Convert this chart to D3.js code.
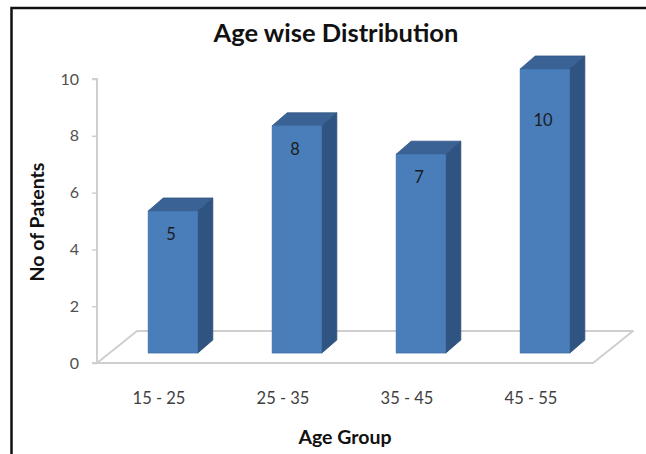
<!DOCTYPE html>
<html>
<head>
<meta charset="utf-8">
<script src="https://cdn.jsdelivr.net/npm/d3@7"></script>
<style>
  html, body { margin: 0; padding: 0; background: #fff; }
  svg { display: block; }
  text { font-family: Lato, "Open Sans", sans-serif; }
</style>
</head>
<body>
<svg id="chart" width="646" height="454"></svg>
<script>
// Patients per age group
const categories = ["15 - 25", "25 - 35", "35 - 45", "45 - 55"];
const patients = [5, 8, 7, 10];
const yTicks = [0, 2, 4, 6, 8, 10];

const title = "Age wise Distribution";
const xTitle = "Age Group";
const yTitle = "No of Patents";

const W = 646, H = 454;
const svg = d3.select("#chart");

// outer frame
svg.append("rect")
  .attr("x", 11.5).attr("y", 8)
  .attr("width", W + 20).attr("height", H + 20)
  .attr("fill", "#fff")
  .attr("stroke", "#111").attr("stroke-width", 2.5);

// front plane of the 3D floor
const floorLeft = 97, floorRight = 593;
const y = d3.scaleLinear().domain([0, 10]).range([363, 79]);
const x = d3.scaleBand().domain(categories)
  .range([floorLeft, floorRight]).paddingInner(0.6).paddingOuter(0.3);

// depth projection: floor depth, bar front / back planes
const depth = { dx: 40, dy: -32 };
const front = { dx: 14, dy: -10 };
const back = { dx: 29, dy: -23 };

const grid = "#cfcfcf";

// floor parallelogram
const floorPts = [
  [floorLeft, y(0)],
  [floorRight, y(0)],
  [floorRight + depth.dx, y(0) + depth.dy],
  [floorLeft + depth.dx, y(0) + depth.dy]
];
svg.append("polygon")
  .attr("points", floorPts.map(p => p.join(",")).join(" "))
  .attr("fill", "#fff")
  .attr("stroke", grid).attr("stroke-width", 2)
  .attr("stroke-linejoin", "round");

// value axis
const yAxis = d3.axisLeft(y).tickValues(yTicks).tickSize(5).tickPadding(13);
const gy = svg.append("g").attr("transform", `translate(${floorLeft},0)`).call(yAxis);
gy.select(".domain").attr("stroke", grid).attr("stroke-width", 2)
  .attr("d", `M-5,${y(10)}H0V${y(0)}H-5`);
gy.selectAll(".tick line").attr("stroke", grid).attr("stroke-width", 1.5);
gy.selectAll(".tick text")
  .attr("fill", "#505050").attr("font-size", 16)
  .style("font-family", "Lato, sans-serif");

// category labels (front plane)
svg.append("g").selectAll("text")
  .data(categories)
  .join("text")
  .attr("x", d => x(d) + x.bandwidth() / 2)
  .attr("y", 404)
  .attr("text-anchor", "middle")
  .attr("fill", "#404040").attr("font-size", 16.5)
  .text(d => d);

// 3D columns
const colFront = "#4a7ebb", colSide = "#2f5481", colTop = "#3a6294";
const bars = svg.append("g").selectAll("g")
  .data(categories.map((c, i) => ({ c, v: patients[i] })))
  .join("g");

bars.each(function(d) {
  const g = d3.select(this);
  const x0 = x(d.c) + front.dx, x1 = x0 + x.bandwidth();
  const yb = y(0) + front.dy, yt = y(d.v) + front.dy;
  const bx = back.dx - front.dx, by = back.dy - front.dy;
  // side
  g.append("polygon")
    .attr("points", [[x1, yb], [x1 + bx, yb + by], [x1 + bx, yt + by], [x1, yt]].map(p => p.join(",")).join(" "))
    .attr("fill", colSide).attr("stroke", "#2a4a72").attr("stroke-width", 0.8);
  // top
  g.append("polygon")
    .attr("points", [[x0, yt], [x0 + bx, yt + by], [x1 + bx, yt + by], [x1, yt]].map(p => p.join(",")).join(" "))
    .attr("fill", colTop).attr("stroke", "#2f5481").attr("stroke-width", 0.8);
  // front
  g.append("rect")
    .attr("x", x0).attr("y", yt)
    .attr("width", x1 - x0).attr("height", yb - yt)
    .attr("fill", colFront).attr("stroke", "#3f6ea6").attr("stroke-width", 0.8);
  // value label, kept inside the plot area
  g.append("text")
    .attr("x", (x0 + x1) / 2 - 2)
    .attr("y", Math.max(yt + 29, 126))
    .attr("text-anchor", "middle")
    .attr("fill", "#1c1c1c").attr("font-size", 16.5)
    .text(d.v);
});

// titles
svg.append("text")
  .attr("x", 336).attr("y", 42)
  .attr("text-anchor", "middle")
  .attr("font-size", 25.5).attr("font-weight", "bold").attr("fill", "#111")
  .text(title);

svg.append("text")
  .attr("x", 345).attr("y", 444)
  .attr("text-anchor", "middle")
  .attr("font-size", 19.5).attr("font-weight", "bold").attr("fill", "#111")
  .text(xTitle);

svg.append("text")
  .attr("transform", "translate(44,222) rotate(-90)")
  .attr("text-anchor", "middle")
  .attr("font-size", 19.5).attr("font-weight", "bold").attr("fill", "#111")
  .text(yTitle);
</script>
</body>
</html>
